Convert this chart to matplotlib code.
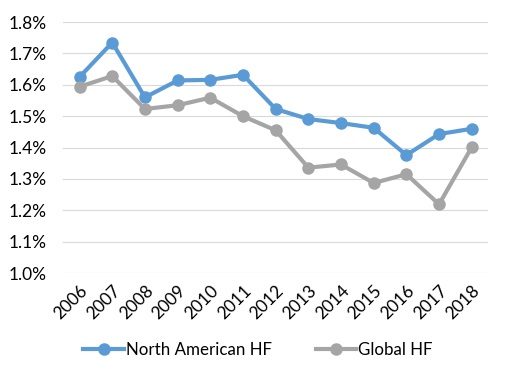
import matplotlib.pyplot as plt
from matplotlib.ticker import FuncFormatter

years = ["2006", "2007", "2008", "2009", "2010", "2011", "2012",
         "2013", "2014", "2015", "2016", "2017", "2018"]
north_american = [1.625, 1.735, 1.560, 1.614, 1.616, 1.632, 1.523,
                  1.491, 1.478, 1.463, 1.376, 1.443, 1.460]
global_hf = [1.594, 1.628, 1.523, 1.535, 1.559, 1.500, 1.455,
             1.336, 1.346, 1.287, 1.315, 1.219, 1.401]

plt.rcParams['font.family'] = ['Lato', 'DejaVu Sans']

fig = plt.figure(figsize=(5.1, 3.75), dpi=100)
ax = fig.add_axes([0.124, 0.272, 0.833, 0.669])

x = list(range(len(years)))
ax.plot(x, north_american, color='#5B9BD5', lw=3, marker='o', ms=8,
        label="North American HF", zorder=3)
ax.plot(x, global_hf, color='#A5A5A5', lw=3, marker='o', ms=8,
        label="Global HF", zorder=3)

ax.set_xlim(-0.5, len(years) - 0.5)
ax.set_ylim(1.0, 1.8)
ax.set_yticks([1.0 + 0.1 * i for i in range(9)])
ax.yaxis.set_major_formatter(FuncFormatter(lambda v, p: f"{v:.1f}%"))
ax.set_xticks(x)
ax.set_xticklabels(years, rotation=45, ha='right', rotation_mode='anchor')

ax.grid(axis='y', color='#D9D9D9', lw=0.8)
ax.set_axisbelow(True)
for s in ax.spines.values():
    s.set_visible(False)
ax.tick_params(axis='both', length=0, labelsize=12.5, colors='#000000')
ax.tick_params(axis='y', pad=12)
ax.tick_params(axis='x', pad=7)

ax.legend(loc='center', bbox_to_anchor=(0.458, -0.307), ncol=2,
          frameon=False, fontsize=12.2, handlelength=2.4, columnspacing=2.6,
          handletextpad=0.1)

fig.savefig("out.png", dpi=100)
